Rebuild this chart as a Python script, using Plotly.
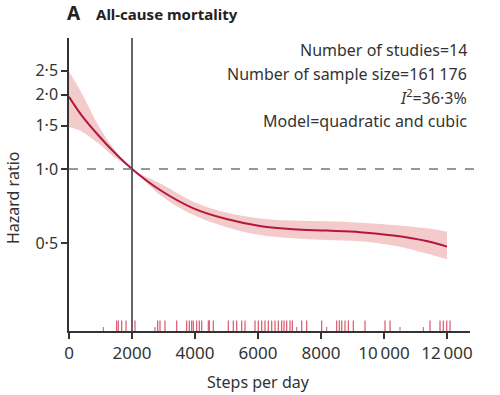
import plotly.graph_objects as go

# Curve data (steps per day -> hazard ratio with 95% CI)
steps = [0, 400, 930, 1460, 2000, 2890, 3950, 5000, 6060, 7120, 8180, 9240, 10300, 11350, 12000]
hr = [1.96, 1.65, 1.37, 1.16, 1.00, 0.822, 0.693, 0.627, 0.588, 0.570, 0.563, 0.555, 0.538, 0.511, 0.485]
upper = [2.48, 2.03, 1.50, 1.19, 1.00, 0.875, 0.737, 0.666, 0.631, 0.618, 0.614, 0.606, 0.593, 0.575, 0.557]
lower = [1.48, 1.42, 1.27, 1.11, 1.00, 0.785, 0.651, 0.581, 0.540, 0.524, 0.516, 0.510, 0.490, 0.455, 0.431]

# Rug of study exposure points
rug_tall = [1513, 1566, 1672, 1810, 2095, 2815, 2889, 3048, 3418, 3735, 3820, 3894, 3947,
            4053, 4138, 4212, 4424, 4456, 4582, 5058, 5217, 5323, 5481, 5587, 5905, 6011,
            6117, 6222, 6328, 6434, 6540, 6646, 6751, 6826, 6910, 7016, 7090, 7386, 7545,
            8021, 8497, 8582, 8656, 8762, 8868, 9027, 9397, 10032, 10191, 11460, 11778,
            11884, 11990, 12096]
rug_short = [1090, 2730, 7228, 8180, 10508, 11249]
rug_y_tall = 0.2314
rug_y_short = 0.2249

x_ticks = [0, 2000, 4000, 6000, 8000, 10000, 12000]
x_ticklabels = ["0", "2000", "4000", "6000", "8000", "10\u2009000", "12\u2009000"]
y_ticks = [0.5, 1.0, 1.5, 2.0, 2.5]
y_ticklabels = ["0·5", "1·0", "1·5", "2·0", "2·5"]

stats_lines = ["Number of studies=14", "Number of sample size=161\u2009176",
               "<i>I</i><sup>2</sup>=36·3%", "Model=quadratic and cubic"]

FONT = "Noto Sans"
AX = "#333333"
W, H = 500, 395
# plot area in pixel coordinates
X0, X1, Y0, Y1 = 69, 470, 38, 331
L, T = X0, Y0
R, B = W - X1, H - Y1
PW, PH = X1 - X0, Y1 - Y0


def px(xp):
    return (xp - X0) / PW


def py(yp):
    return 1 - (yp - Y0) / PH


fig = go.Figure()
fig.add_trace(go.Scatter(x=steps, y=upper, mode="lines", line=dict(width=0, shape="spline"),
                         hoverinfo="skip", showlegend=False))
fig.add_trace(go.Scatter(x=steps, y=lower, mode="lines", line=dict(width=0, shape="spline"),
                         fill="tonexty", fillcolor="rgba(236,168,168,0.6)",
                         hoverinfo="skip", showlegend=False))
fig.add_trace(go.Scatter(x=steps, y=hr, mode="lines",
                         line=dict(color="#b3173d", width=2, shape="spline"), showlegend=False))
fig.add_trace(go.Scatter(x=rug_tall, y=[rug_y_tall] * len(rug_tall), mode="markers",
                         marker=dict(symbol="line-ns", size=8,
                                     line=dict(width=1.3, color="#dc6478")),
                         showlegend=False))
fig.add_trace(go.Scatter(x=rug_short, y=[rug_y_short] * len(rug_short), mode="markers",
                         marker=dict(symbol="line-ns", size=3,
                                     line=dict(width=1.2, color="#c07a85")),
                         showlegend=False))

fig.add_shape(type="line", xref="x", yref="paper", x0=2000, x1=2000, y0=0, y1=1,
              line=dict(color=AX, width=1.5))
fig.add_shape(type="line", xref="paper", yref="y", x0=0, x1=px(481), y0=1.0, y1=1.0,
              line=dict(color="#5f7e8a", width=1.5, dash="dash"))

for i, t in enumerate(stats_lines):
    fig.add_annotation(text=t, xref="paper", yref="paper", x=px(469), y=py(50 + 23.5 * i),
                       xanchor="right", yanchor="middle", showarrow=False,
                       font=dict(family=FONT, size=16, color="#333333"))

fig.add_annotation(text="<b>A</b>", xref="paper", yref="paper", x=px(65), y=py(13),
                   xanchor="left", yanchor="middle", showarrow=False,
                   font=dict(family=FONT, size=19, color="#222222"))
fig.add_annotation(text="<b>All-cause mortality</b>", xref="paper", yref="paper",
                   x=px(94), y=py(14), xanchor="left", yanchor="middle", showarrow=False,
                   font=dict(family=FONT, size=15, color="#222222"))
fig.add_annotation(text="Steps per day", xref="paper", yref="paper", x=px(258), y=py(382),
                   xanchor="center", yanchor="middle", showarrow=False,
                   font=dict(family=FONT, size=16, color="#333333"))
fig.add_annotation(text="Hazard ratio", xref="paper", yref="paper", x=px(13), y=py(198),
                   xanchor="center", yanchor="middle", showarrow=False, textangle=-90,
                   font=dict(family=FONT, size=16, color="#333333"))

fig.update_layout(
    width=W, height=H,
    margin=dict(l=L, r=R, t=T, b=B, autoexpand=False),
    paper_bgcolor="white", plot_bgcolor="white",
    font=dict(family=FONT, size=16, color="#333333"),
    xaxis=dict(range=[0, 12730], showline=True, linecolor=AX, linewidth=1.5,
               ticks="outside", ticklen=6, tickcolor=AX, tickwidth=1.5, automargin=False,
               tickvals=x_ticks, ticktext=x_ticklabels, showgrid=False, zeroline=False,
               tickfont=dict(size=17)),
    yaxis=dict(type="log", range=[-0.6559, 0.5304], showline=True, linecolor=AX, linewidth=1.5,
               ticks="outside", ticklen=6, tickcolor=AX, tickwidth=1.5, automargin=False,
               tickvals=y_ticks, ticktext=y_ticklabels, showgrid=False, zeroline=False,
               tickfont=dict(size=16)),
)

fig.write_html("out.html", config={"displayModeBar": False},
               post_script="document.body.style.margin='0';document.body.style.overflow='hidden';")
